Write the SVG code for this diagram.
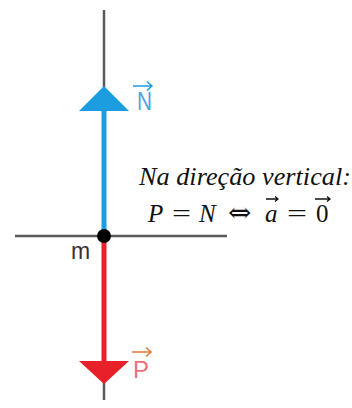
<svg xmlns="http://www.w3.org/2000/svg" width="352" height="408" viewBox="0 0 352 408">
<style>
.axis{stroke:#5a5a5a;stroke-width:2.5;fill:none}
.math{font-family:"Liberation Serif","Times New Roman",serif;font-size:25px;fill:#111}
.it{font-style:italic}
.lbl{font-family:"Liberation Sans",Arial,sans-serif}
.vec{stroke:#111;stroke-width:1.3;fill:none}
</style>
<rect width="352" height="408" fill="#ffffff"/>
<g id="axes">
<line class="axis" x1="104" y1="10" x2="104" y2="400"/>
<line class="axis" x1="15" y1="236" x2="227" y2="236" stroke-width="2"/>
</g>
<g id="connectors">
<g id="forceN">
<line x1="104" y1="236" x2="104" y2="108" stroke="#1b9de0" stroke-width="5"/>
<polygon points="104,86 79,111 129,111" fill="#1b9de0"/>
</g>
<g id="forceP">
<line x1="104" y1="236" x2="104" y2="364" stroke="#e8202a" stroke-width="5"/>
<polygon points="104,384 79,361 129,361" fill="#e8202a"/>
</g>
</g>
<g id="mass">
<circle cx="104" cy="236" r="7" fill="#000"/>
<text class="lbl" x="71" y="259" font-size="23" fill="#333">m</text>
</g>
<g id="labelN">
<text class="lbl" x="137" y="110" font-size="25" fill="#4da6e0" textLength="15" lengthAdjust="spacingAndGlyphs">N</text>
<path d="M133,86 H152 M147,81.5 L152,86 L147,90.5" stroke="#1b9de0" stroke-width="1.5" fill="none"/>
</g>
<g id="labelP">
<text class="lbl" x="133" y="378" font-size="23" fill="#f0707a" textLength="16" lengthAdjust="spacingAndGlyphs">P</text>
<path d="M132,352 H151 M146,347.5 L151,352 L146,356.5" stroke="#e07a30" stroke-width="1.5" fill="none"/>
</g>
<g id="equation">
<text class="math it" x="139" y="185" textLength="212" lengthAdjust="spacingAndGlyphs">Na direção vertical:</text>
<text class="math it" x="148" y="222">P</text>
<text class="math" x="172" y="222" textLength="19" lengthAdjust="spacingAndGlyphs">=</text>
<text class="math it" x="199" y="222">N</text>
<text x="228" y="222" font-family="'DejaVu Serif', serif" font-size="28" font-weight="200" fill="#111">⇔</text>
<text class="math it" x="265" y="222">a</text>
<path class="vec" d="M266,199 H278 M275,196.5 L278,199 L275,201.5"/>
<text class="math" x="287" y="222" textLength="20" lengthAdjust="spacingAndGlyphs">=</text>
<text class="math" x="316" y="222">0</text>
<path class="vec" d="M315,199 H330 M327,196.5 L330,199 L327,201.5"/>
</g>
</svg>
